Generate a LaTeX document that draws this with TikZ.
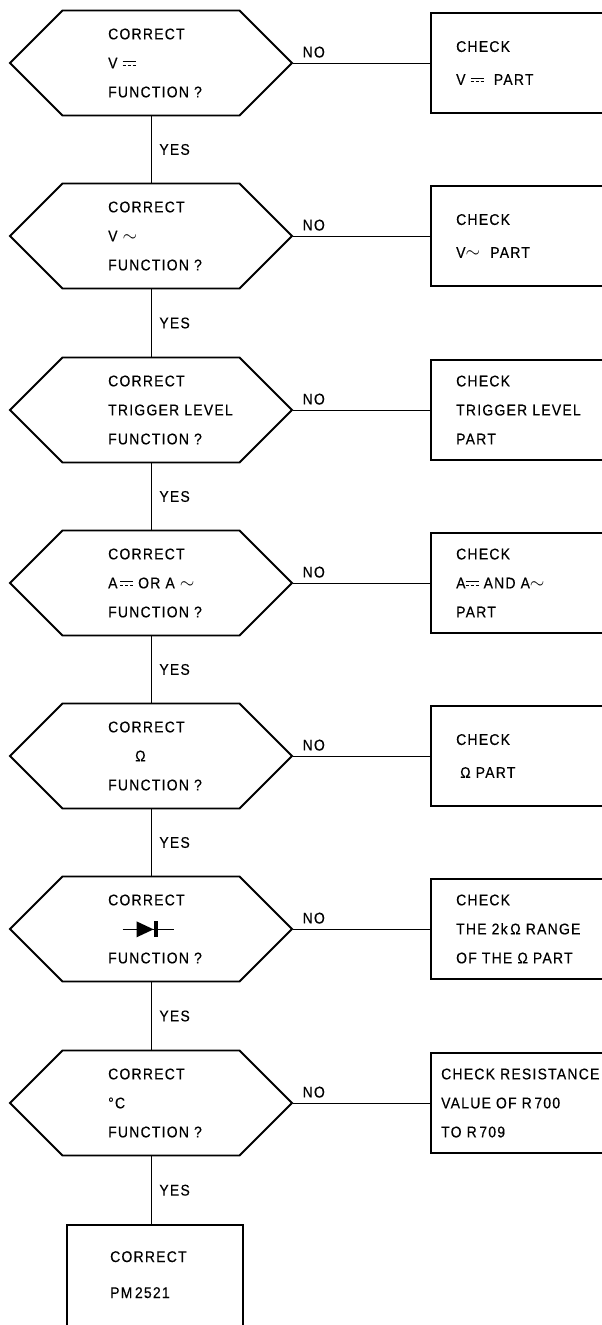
\documentclass[tikz,border=0pt]{standalone}
\usepackage{fontspec}
\usepackage{graphicx}
\usetikzlibrary{shapes.symbols}
\newfontfamily\ftxt[LetterSpace=8,FakeStretch=0.9,FakeBold=0.4]{Liberation Sans}
% d.c. sign: full bar over dashed bar
\newcommand\dcsym{\raisebox{2.5pt}{\rlap{\rule[3.5pt]{13pt}{1pt}}\rule{3pt}{1pt}\hspace{2pt}\rule{3pt}{1pt}\hspace{2pt}\rule{3pt}{1pt}}}
% a.c. sign
\newcommand\acsym{\scalebox{1.3}{$\sim$}}
% diode sign
\newcommand\diodesym{\tikz[baseline=-5pt]{\draw[line width=0.7pt] (0pt,0pt)--(51pt,0pt);
  \fill (14pt,8pt)--(31pt,0pt)--(14pt,-8pt)--cycle; \fill (31pt,-8pt) rectangle (35pt,8pt);}}
\tikzset{
  hexa/.style={signal, signal to=east and west, signal pointer angle=90, draw, line width=1.8pt,
    minimum width=282pt, minimum height=105pt, inner sep=0pt},
  checkbox/.style={draw, line width=1.8pt, anchor=west, minimum width=200pt, minimum height=100pt},
  ftext/.style={anchor=west, align=left, inner sep=0pt, font=\fontsize{15.5pt}{29pt}\selectfont\ftxt},
  link/.style={line width=0.8pt},
  yeslbl/.style={anchor=west, inner sep=0pt, xshift=8pt, font=\fontsize{15.5pt}{17pt}\selectfont\ftxt},
  nolbl/.style={anchor=south west, inner sep=0pt, xshift=9pt, yshift=5pt, font=\fontsize{15.5pt}{17pt}\selectfont\ftxt}
}
\begin{document}
\begin{tikzpicture}[x=1pt,y=-1pt]
\useasboundingbox (0,0) rectangle (602,1325);
% questions and the part to check on NO
\foreach \i/\y/\qtxt/\dx/\ctxt in {
  1/63/{CORRECT\\V \dcsym\\FUNCTION ?}/26/{CHECK\\[4pt]V \dcsym\ \ PART},
  2/236/{CORRECT\\V \acsym\\FUNCTION ?}/26/{CHECK\\[4pt]V\acsym\ \ PART},
  3/410/{CORRECT\\TRIGGER LEVEL\\FUNCTION ?}/26/{CHECK\\TRIGGER LEVEL\\PART},
  4/583/{CORRECT\\A\,\dcsym\ OR A \acsym\\FUNCTION ?}/26/{CHECK\\A\dcsym\ AND A\acsym\\PART},
  5/756/{CORRECT\\\hspace*{27pt}Ω\\FUNCTION ?}/26/{CHECK\\[4pt]\hspace*{4pt}Ω PART},
  6/929/{CORRECT\\\hspace*{14pt}\diodesym\\FUNCTION ?}/26/{CHECK\\THE 2k\,Ω RANGE\\OF THE Ω PART},
  7/1103/{CORRECT\\°C\\FUNCTION ?}/11/{CHECK RESISTANCE\\VALUE OF R\,700\\TO R\,709}} {
  \node[hexa] (q\i) at (151,\y) {};
  \node[ftext,xshift=-43pt] (qt\i) at (q\i.center) {\qtxt};
  \node[checkbox] (c\i) at (430,\y) {};
  \node[ftext,xshift=\dx pt] (ct\i) at (c\i.west) {\ctxt};
  \draw[link] (q\i.east) -- node[nolbl,pos=0] (n\i) {NO} (c\i.west);
}
\foreach \i in {1,...,6} {
  \pgfmathtruncatemacro\j{\i+1}
  \draw[link] (q\i.south) -- node[yeslbl] (y\i) {YES} (q\j.north);
}
% end of the chain
\node[checkbox, anchor=north, minimum width=176pt, minimum height=140pt] (fin) at (155,1224) {};
\node[ftext, anchor=north west, xshift=-45pt, yshift=-27pt] (fint) at (fin.north) {CORRECT\\[7pt]PM\,2521};
\draw[link] (q7.south) -- node[yeslbl] (y7) {YES} (q7.south |- fin.north);
\end{tikzpicture}
\end{document}
